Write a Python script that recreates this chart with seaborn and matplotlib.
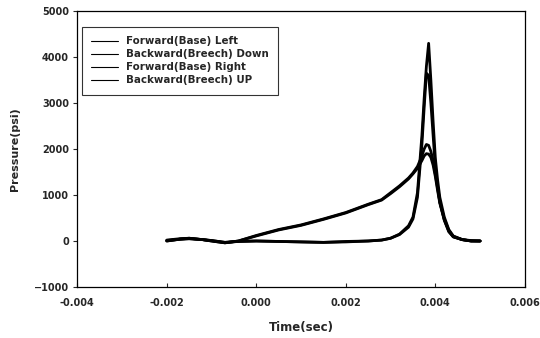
import pandas as pd
import numpy as np
import matplotlib.pyplot as plt
import seaborn as sns

# time samples (sec)
t_fwd = [-0.002, -0.0017, -0.0015, -0.0012, -0.001, -0.0007, -0.0004, 0.0, 0.0005,
         0.001, 0.0015, 0.002, 0.0025, 0.0028, 0.003, 0.0032, 0.0034, 0.0035, 0.0036,
         0.0037, 0.00375, 0.0038, 0.00385, 0.0039, 0.00395, 0.004, 0.00405, 0.0041,
         0.0042, 0.0043, 0.0044, 0.0046, 0.0048, 0.005]
t_bwd = t_fwd

# pressure (psi)
fwd_left = [20, 50, 60, 30, 10, -30, -10, 0, -10, -20, -30, -20, 0, 20, 60, 140, 300, 480, 950,
            2100, 2900, 3650, 3600, 3000, 2300, 1600, 1200, 850, 450, 200, 90, 30, 10, 0]
bwd_down = [0, 40, 50, 30, 0, -40, 0, 120, 250, 350, 480, 620, 800, 900, 1050, 1200, 1370,
            1480, 1620, 1850, 2000, 2100, 2080, 1950, 1750, 1450, 1150, 850, 480, 230, 100,
            30, 0, 0]
fwd_right = [10, 40, 60, 30, 10, -30, -10, 0, -10, -20, -30, -10, 0, 20, 60, 150, 330, 520,
             1050, 2300, 3100, 3800, 4300, 3500, 2600, 1800, 1330, 950, 520, 250, 110, 30, 0, 0]
bwd_up = [0, 40, 50, 30, 0, -40, 0, 110, 240, 340, 470, 610, 790, 890, 1030, 1180, 1350,
          1460, 1580, 1750, 1850, 1900, 1890, 1820, 1650, 1400, 1100, 820, 460, 220, 90,
          30, 0, 0]

labels = ['Forward(Base) Left', 'Backward(Breech) Down', 'Forward(Base) Right', 'Backward(Breech) UP']
series = [(t_fwd, fwd_left), (t_bwd, bwd_down), (t_fwd, fwd_right), (t_bwd, bwd_up)]

frames = []
for lab, (t, p) in zip(labels, series):
    frames.append(pd.DataFrame({'Time(sec)': t, 'Pressure(psi)': p, 'series': lab}))
df = pd.concat(frames, ignore_index=True)

sns.set_style('ticks')
plt.rcParams['font.family'] = ['DejaVu Sans']
plt.rcParams['font.weight'] = 'bold'

fig = plt.figure(figsize=(5.4, 3.38), dpi=100)
ax = fig.add_axes([0.143, 0.151, 0.829, 0.816])

sns.lineplot(data=df, x='Time(sec)', y='Pressure(psi)', hue='series', hue_order=labels,
             palette=['black'] * 4, linewidth=2.0, ax=ax, estimator=None, sort=False)

ax.set_xlim(-0.004, 0.006)
ax.set_ylim(-1000, 5000)
ax.set_xticks([-0.004, -0.002, 0.0, 0.002, 0.004, 0.006])
ax.set_xticklabels(['-0.004', '-0.002', '0.000', '0.002', '0.004', '0.006'])
ax.set_yticks([-1000, 0, 1000, 2000, 3000, 4000, 5000])
ax.tick_params(axis='both', labelsize=7, length=3, width=0.8)
ax.tick_params(axis='x', direction='in', pad=8)
ax.tick_params(axis='y', direction='out', pad=3)
for lbl in ax.get_xticklabels() + ax.get_yticklabels():
    lbl.set_fontweight('bold')
ax.set_xlabel('Time(sec)', fontsize=8.5, fontweight='bold', labelpad=9)
ax.set_ylabel('Pressure(psi)', fontsize=8, fontweight='bold', labelpad=10)
for s in ax.spines.values():
    s.set_visible(True)
    s.set_linewidth(0.9)
    s.set_color('black')

leg = ax.legend(loc='upper left', bbox_to_anchor=(0.011, 0.943), fontsize=7.4,
                frameon=True, fancybox=False, handlelength=2.6, borderpad=0.9,
                labelspacing=0.3, handletextpad=0.8, borderaxespad=0)
leg.get_frame().set_edgecolor('black')
leg.get_frame().set_linewidth(0.8)
for line in leg.get_lines():
    line.set_linewidth(0.8)
for txt in leg.get_texts():
    txt.set_fontweight('bold')

fig.savefig('out.png', dpi=100)
